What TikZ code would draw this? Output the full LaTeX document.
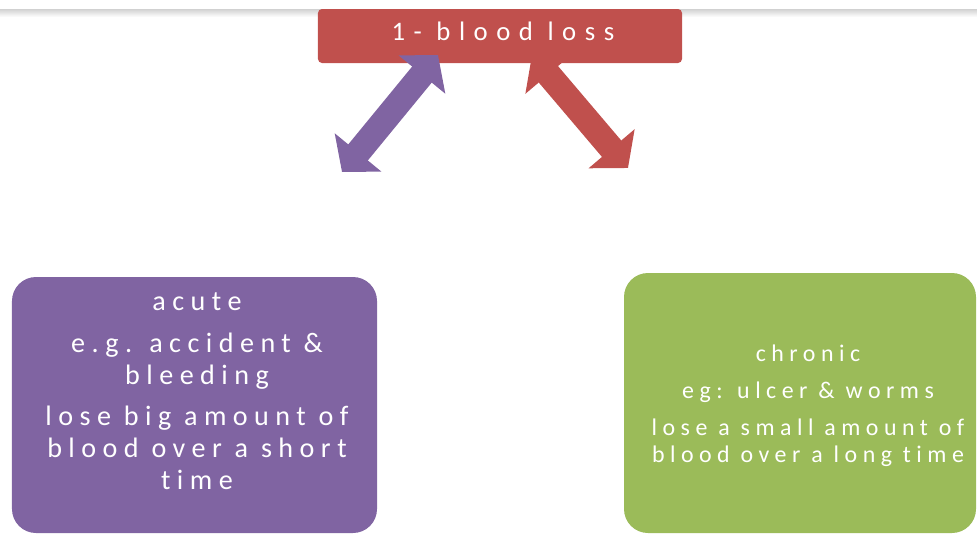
\documentclass[tikz,border=0pt]{standalone}
\usepackage{fontspec}
\setmainfont{Carlito}
\usetikzlibrary{arrows.meta}
\definecolor{lossred}{HTML}{C0504D}
\definecolor{acutepurple}{HTML}{8064A2}
\definecolor{chronicgreen}{HTML}{9BBB59}
\newfontfamily\titlefont[LetterSpace=32,Ligatures=NoCommon]{Carlito}
\newfontfamily\boxfont[LetterSpace=23,Ligatures=NoCommon]{Carlito}

\begin{document}
\begin{tikzpicture}[x=0.25mm,y=-0.25mm,
  box/.style={rounded corners=6mm, inner sep=0pt},
  boxtext/.style={text=white, align=center, inner sep=0pt},
  biarrow/.style={line width=18pt, {Triangle[width=42pt,length=18pt]}-{Triangle[width=42pt,length=18pt]}}]
\useasboundingbox (0,0) rectangle (977,533);
% shadow band along the top
\shade[top color=black!18, bottom color=white] (0,9) rectangle (977,17);
% red arrow sits under the title box
\coordinate (red1) at (532,55);
\coordinate (red2) at (628,168);
\draw[biarrow, lossred] (red1) -- (red2);
\node[box, rounded corners=1mm, fill=lossred, minimum width=91mm, minimum height=13.5mm] (loss) at (500,36) {};
\node[boxtext, font=\titlefont\fontsize{19}{23}\selectfont] (losstext) at (503,31) {1- blood loss};
% purple arrow on top
\coordinate (pur1) at (342,172);
\coordinate (pur2) at (438,55);
\draw[biarrow, acutepurple] (pur1) -- (pur2);
% the two kinds
\node[box, fill=acutepurple, minimum width=91.25mm, minimum height=64mm] (acute) at (194.5,405) {};
\node[boxtext, font=\boxfont\fontsize{20}{22.7}\selectfont] (acutetext) at (197,391) {acute\\[2.6mm]
  e.g. accident \&\\
  bleeding\\[2.3mm]
  lose big amount of\\
  blood over a short\\
  time};
\node[box, fill=chronicgreen, minimum width=88mm, minimum height=65mm] (chronic) at (800,403) {};
\node[boxtext, font=\boxfont\fontsize{17}{19.2}\selectfont] (chronictext) at (808,406) {chronic\\[2.5mm]
  eg: ulcer \& worms\\[2.5mm]
  lose a small amount of\\
  blood over a long time};
\end{tikzpicture}
\end{document}
